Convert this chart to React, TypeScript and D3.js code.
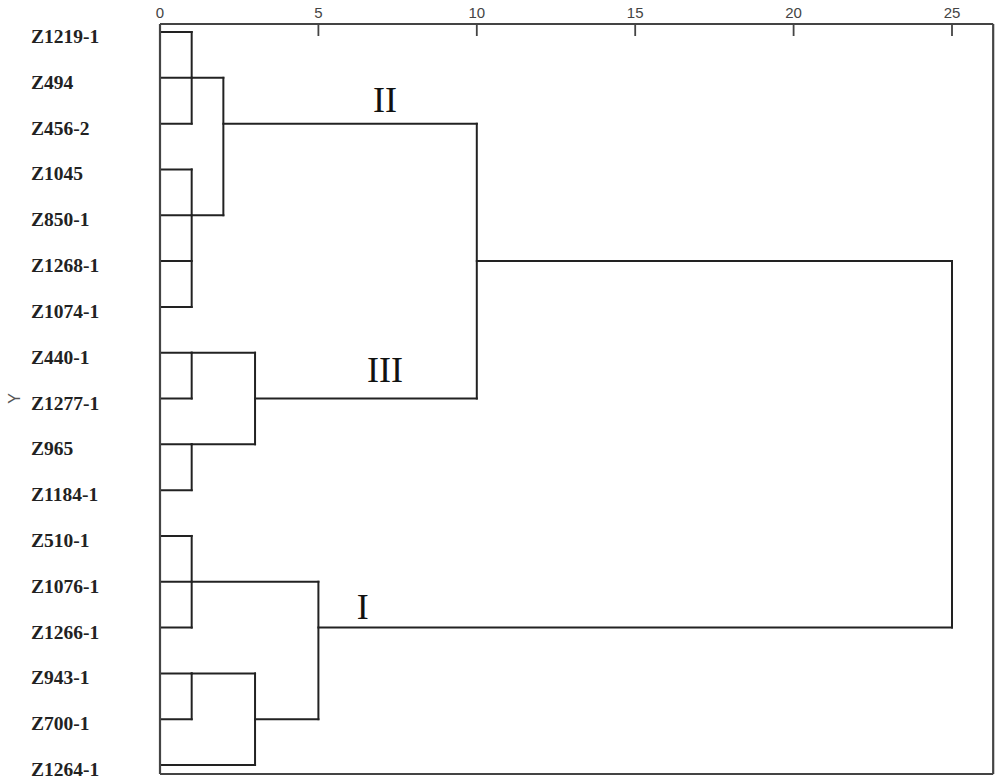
import React from "react";
import * as d3 from "d3";

// Leaves in dendrogram order (top to bottom)
const leaves = [
  "Z1219-1", "Z494", "Z456-2", "Z1045", "Z850-1", "Z1268-1", "Z1074-1",
  "Z440-1", "Z1277-1", "Z965", "Z1184-1",
  "Z510-1", "Z1076-1", "Z1266-1", "Z943-1", "Z700-1", "Z1264-1",
];

// Rescaled distance cluster combine (SPSS style). row = row at which the node's link leaves
const nodeIds = ["n1", "n2", "n3", "n4", "n5", "n6", "n7", "n8", "n9", "n10", "n11", "root"];
const nodeChildren = [
  ["Z1219-1", "Z494", "Z456-2"],
  ["Z1045", "Z850-1", "Z1268-1", "Z1074-1"],
  ["n1", "n2"],
  ["Z440-1", "Z1277-1"],
  ["Z965", "Z1184-1"],
  ["n4", "n5"],
  ["n3", "n6"],
  ["Z510-1", "Z1076-1", "Z1266-1"],
  ["Z943-1", "Z700-1"],
  ["n9", "Z1264-1"],
  ["n8", "n10"],
  ["n7", "n11"],
];
const nodeDistances = [1, 1, 2, 1, 1, 3, 10, 1, 1, 3, 5, 25];
const nodeRows = [1, 4, 2, 7, 9, 8, 5, 12, 14, 15, 13, 9];

// Axis ticks
const tickValues = [0, 5, 10, 15, 20, 25];

// Cluster annotations
const clusterLabels = ["II", "III", "I"];
const clusterLabelNodes = ["n3", "n6", "n11"];
const clusterLabelDist = [7.1, 7.1, 6.4];
const clusterLabelDy = [-12, -17, -9];

const W = 1004;
const H = 782;

export default function App() {
  const x = d3.scaleLinear().domain([0, 25]).range([160, 952]);
  const y = d3.scaleLinear().domain([0, leaves.length - 1]).range([32, 765]);

  const frameLeft = 160;
  const frameRight = x(26.3);
  const frameTop = 24;
  const frameBottom = 774;

  const info: Record<string, { dist: number; row: number }> = {};
  leaves.forEach((l, i) => (info[l] = { dist: 0, row: i }));
  nodeIds.forEach((id, i) => (info[id] = { dist: nodeDistances[i], row: nodeRows[i] }));

  const lineColor = "#222";
  const segs: { x1: number; y1: number; x2: number; y2: number }[] = [];
  nodeIds.forEach((id, i) => {
    const d = nodeDistances[i];
    const rows = nodeChildren[i].map((c) => info[c].row);
    segs.push({ x1: x(d), x2: x(d), y1: y(d3.min(rows)!), y2: y(d3.max(rows)!) });
    nodeChildren[i].forEach((c) => {
      segs.push({ x1: x(info[c].dist), x2: x(d), y1: y(info[c].row), y2: y(info[c].row) });
    });
  });

  return (
    <div style={{ position: "absolute", left: 0, top: 0, width: W, height: H, background: "#fff" }}>
      <svg width={W} height={H} style={{ display: "block" }}>
        <rect x={0} y={0} width={W} height={H} fill="#fff" />
        {/* dendrogram links */}
        <g stroke={lineColor} strokeWidth={2} fill="none" strokeLinecap="square">
          {segs.map((s, i) => (
            <line key={i} x1={s.x1} y1={s.y1} x2={s.x2} y2={s.y2} />
          ))}
        </g>
        {/* frame */}
        <g stroke="#444" strokeWidth={2.2} fill="none">
          <line x1={frameLeft} y1={frameTop} x2={frameRight} y2={frameTop} />
          <line x1={frameLeft} y1={frameTop} x2={frameLeft} y2={frameBottom} />
          <line x1={frameRight} y1={frameTop} x2={frameRight} y2={frameBottom} />
          <line x1={frameLeft} y1={frameBottom} x2={frameRight} y2={frameBottom} />
        </g>
        {/* ticks */}
        <g>
          {tickValues.map((t) => (
            <g key={t}>
              <line x1={x(t)} x2={x(t)} y1={frameTop} y2={frameTop + 12} stroke="#444" strokeWidth={1.8} />
              <text
                x={x(t)}
                y={18}
                textAnchor="middle"
                fontFamily="'Liberation Sans', Arial, sans-serif"
                fontSize={15}
                fill="#444"
              >
                {t}
              </text>
            </g>
          ))}
        </g>
        {/* leaf labels */}
        <g>
          {leaves.map((l, i) => (
            <text
              key={l}
              x={31}
              y={y(i) + 11}
              fontFamily="'Liberation Serif', 'Times New Roman', serif"
              fontWeight="bold"
              fontSize={19.5}
              fill="#222"
            >
              {l}
            </text>
          ))}
        </g>
        {/* axis title */}
        <text
          transform={`translate(20, ${y(8)}) rotate(-90)`}
          textAnchor="middle"
          fontFamily="'Liberation Sans', Arial, sans-serif"
          fontSize={16}
          fill="#555"
        >
          Y
        </text>
        {/* cluster annotations */}
        {clusterLabels.map((lab, i) => (
          <text
            key={lab}
            x={x(clusterLabelDist[i])}
            y={y(info[clusterLabelNodes[i]].row) + clusterLabelDy[i]}
            textAnchor="middle"
            fontFamily="'Liberation Serif', 'Times New Roman', serif"
            fontSize={36}
            fill="#111"
          >
            {lab}
          </text>
        ))}
      </svg>
    </div>
  );
}
